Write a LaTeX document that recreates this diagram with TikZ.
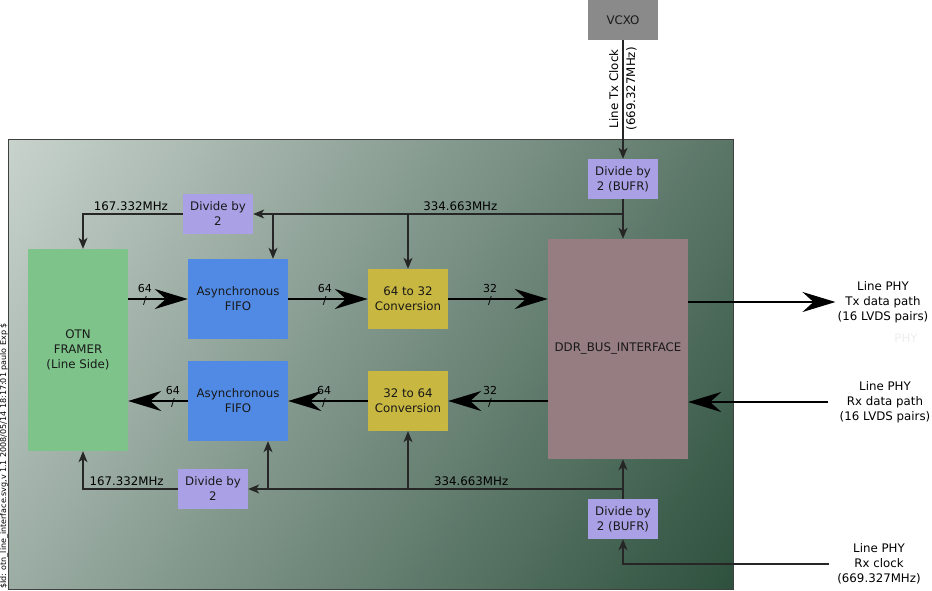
\documentclass[tikz,border=0pt]{standalone}
\usepackage{fontspec}
\setmainfont{DejaVu Sans}
\usepackage{tikz}
\usetikzlibrary{arrows.meta}
\definecolor{bgLight}{RGB}{234,239,237}
\definecolor{bgDark}{RGB}{12,52,30}
\definecolor{vcxoGray}{RGB}{138,138,138}
\definecolor{divLilac}{RGB}{170,160,230}
\definecolor{framerGreen}{RGB}{125,195,138}
\definecolor{fifoBlue}{RGB}{80,138,228}
\definecolor{convYellow}{RGB}{200,183,64}
\definecolor{ddrMauve}{RGB}{150,125,130}
\pgfdeclarehorizontalshading{board}{100bp}{color(0bp)=(bgLight); color(100bp)=(bgDark)}
\tikzstyle{block} = [rectangle, minimum width=100pt, minimum height=80pt, text centered, align=center, inner sep=0pt, text=black!90]
\tikzstyle{framer} = [block, minimum height=202pt, fill=framerGreen]
\tikzstyle{fifo} = [block, fill=fifoBlue]
\tikzstyle{conv} = [block, minimum width=80pt, minimum height=60pt, fill=convYellow]
\tikzstyle{divider} = [block, minimum width=70pt, minimum height=40pt, fill=divLilac]
\tikzstyle{ddr} = [block, minimum width=140pt, minimum height=220pt, fill=ddrMauve]
\tikzstyle{osc} = [divider, fill=vcxoGray]
\tikzstyle{ext} = [align=center, inner sep=2pt]
\tikzstyle{freq} = [above=2pt, inner sep=1pt]
\tikzstyle{slash} = [font=\fontsize{11}{11}\selectfont, inner sep=0pt, yshift=-2pt]
\tikzstyle{buslbl} = [font=\fontsize{11}{12}\selectfont, inner sep=0.5pt, label distance=1pt]
\tikzstyle{data} = [line width=2.4pt, -{Stealth[length=33pt, width=20pt, inset=11pt]}]
\tikzstyle{clk} = [line width=1.1pt, draw=black!85, -{Stealth[length=11pt, width=9pt, inset=3pt]}]

\begin{document}
\begin{tikzpicture}[x=1pt, y=-1pt, font=\fontsize{11.8}{15}\selectfont]
\useasboundingbox (0,0) rectangle (932,590);
\shade [shading=board, shading angle=-33, draw=black!75, line width=1pt] (8,139) rectangle (733,589);
\node (svgid) [rotate=90, font=\fontsize{8}{9}\selectfont] at (4,456) {\$Id: otn\_line\_interface.svg,v 1.1 2008/05/14 18:17:01 paulo Exp \$};

\node (vcxo) [osc] at (623,20) {VCXO};
\node (div1) [divider] at (623,179) {Divide by\\2 (BUFR)};
\node (div2) [divider] at (218,214) {Divide by\\2};
\node (framer) [framer] at (78,350) {OTN\\FRAMER\\(Line Side)};
\node (fifo1) [fifo] at (238,299) {Asynchronous\\FIFO};
\node (conv1) [conv] at (408,299) {64 to 32\\Conversion};
\node (ddr) [ddr] at (618,349) {DDR\_BUS\_INTERFACE};
\node (fifo2) [fifo] at (238,401) {Asynchronous\\FIFO};
\node (conv2) [conv] at (408,401) {32 to 64\\Conversion};
\node (div3) [divider] at (213,489) {Divide by\\2};
\node (div4) [divider] at (623,519) {Divide by\\2 (BUFR)};
\node (txphy) [ext] at (883,302) {Line PHY\\Tx data path\\(16 LVDS pairs)};
\node (rxphy) [ext] at (885,402) {Line PHY\\Rx data path\\(16 LVDS pairs)};
\node (rxclk) [ext] at (879,564) {Line PHY\\Rx clock\\(669.327MHz)};
\node (phyghost) [text=black!7] at (906,338) {PHY};

\coordinate (tapT) at (div1.south |- div2.east);
\coordinate (tapB) at (div4.north |- div3.east);
\coordinate (frclkT) at ([xshift=5pt]framer.north);
\coordinate (frclkB) at ([xshift=5pt]framer.south);
\coordinate (fifo1clk) at ([xshift=35pt]fifo1.north);
\coordinate (fifo2clk) at ([xshift=30pt]fifo2.south);

\draw [data] (framer.east |- fifo1) -- node[slash, pos=0.28, label={[buslbl]above:64}] {/} (fifo1.west);
\draw [data] (fifo1.east) -- node[slash, pos=0.46, label={[buslbl]above:64}] {/} (conv1.west);
\draw [data] (conv1.east) -- node[slash, pos=0.42, label={[buslbl]above:32}] {/} (conv1.east -| ddr.west);
\draw [data] (ddr.east |- txphy) -- (txphy.west);
\draw [data, shorten <=9pt] (rxphy.west) -- (rxphy.west -| ddr.east);
\draw [data] (ddr.west |- conv2) -- node[slash, pos=0.58, label={[buslbl]above:32}] {/} (conv2.east);
\draw [data] (conv2.west) -- node[slash, pos=0.55, label={[buslbl]above:64}] {/} (fifo2.east);
\draw [data] (fifo2.west) -- node[slash, pos=0.25, label={[buslbl]above:64}] {/} (fifo2.west -| framer.east);

\draw [clk] (vcxo) -- node[ext, rotate=90, pos=0.41] {Line Tx Clock\\[2pt](669.327MHz)} (div1);
\draw [clk] (div1.south) -- (div1.south |- ddr.north);
\draw [clk] (tapT) -- node[freq, pos=0.44] {334.663MHz} (div2.east);
\draw [clk] (fifo1clk |- tapT) -- (fifo1clk);
\draw [clk] (conv1.north |- tapT) -- (conv1.north);
\draw [clk] (div2.west) -| node[freq, pos=0.26] {167.332MHz} (frclkT);

\draw [clk] (div4.north) -- (div4.north |- ddr.south);
\draw [clk] (tapB) -- node[freq, pos=0.405] {334.663MHz} (div3.east);
\draw [clk] (fifo2clk |- tapB) -- (fifo2clk);
\draw [clk] (conv2.south |- tapB) -- (conv2.south);
\draw [clk] (div3.west) -| node[freq, pos=0.27] {167.332MHz} (frclkB);
\draw [clk, shorten <=6pt] (rxclk.west) -| (div4.south);
\end{tikzpicture}
\end{document}
